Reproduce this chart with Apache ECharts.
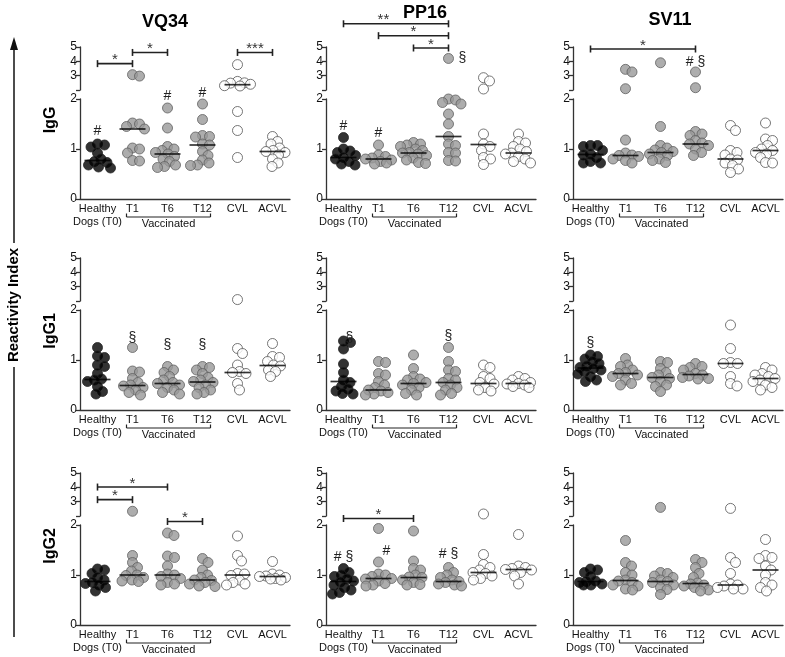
<!DOCTYPE html>
<html><head><meta charset="utf-8">
<script src="https://cdn.jsdelivr.net/npm/echarts@6/dist/echarts.min.js"></script>
<style>html,body{margin:0;padding:0;background:#fff}#c{width:785px;height:657px}</style>
</head><body><div id="c"></div>
<script>
// ---------------- DATA ----------------
const categories = ['Healthy\nDogs (T0)', 'T1', 'T6', 'T12', 'CVL', 'ACVL'];
const antigens = ['VQ34', 'PP16', 'SV11'];
const isotypes = ['IgG', 'IgG1', 'IgG2'];
const groupLabel = 'Vaccinated';
const axisLabel = 'Reactivity Index';

const VQ34_IgG = [
  [1.1, 1.08, 1.04, 0.92, 0.8, 0.75, 0.73, 0.68, 0.64, 0.62],
  [3.07, 2.97, 1.52, 1.5, 1.45, 1.4, 1.02, 1.0, 0.92, 0.77, 0.76],
  [1.82, 1.42, 1.05, 1.0, 0.97, 0.93, 0.9, 0.85, 0.8, 0.75, 0.68, 0.65, 0.63],
  [1.9, 1.59, 1.27, 1.25, 1.24, 1.1, 1.08, 0.95, 0.87, 0.78, 0.72, 0.68, 0.67],
  [3.77, 2.6, 2.5, 2.48, 2.4, 2.3, 2.28, 1.75, 1.37, 0.83],
  [1.25, 1.15, 1.1, 1.02, 0.97, 0.95, 0.93, 0.88, 0.8, 0.72, 0.65]
];
const VQ34_IgG_median = [0.77, 1.40, 0.90, 1.08, 2.37, 0.95];

const PP16_IgG = [
  [1.23, 1.0, 0.96, 0.93, 0.87, 0.83, 0.8, 0.75, 0.7, 0.68],
  [1.08, 0.88, 0.85, 0.82, 0.8, 0.78, 0.75, 0.72, 0.7],
  [1.13, 1.1, 1.08, 1.05, 1.0, 0.97, 0.93, 0.92, 0.9, 0.87, 0.82, 0.78, 0.73, 0.71],
  [4.2, 2.0, 1.98, 1.93, 1.9, 1.7, 1.5, 1.25, 1.1, 1.07, 0.93, 0.92, 0.77, 0.76],
  [2.86, 2.63, 2.07, 1.3, 1.1, 1.05, 0.97, 0.83, 0.8, 0.69],
  [1.3, 1.15, 1.12, 1.05, 1.0, 0.95, 0.92, 0.9, 0.85, 0.8, 0.75, 0.72]
];
const PP16_IgG_median = [0.83, 0.80, 0.92, 1.25, 1.09, 0.92];

const SV11_IgG = [
  [1.07, 1.07, 1.05, 0.97, 0.9, 0.88, 0.83, 0.75, 0.72, 0.72],
  [3.44, 3.26, 2.09, 1.18, 0.92, 0.88, 0.87, 0.85, 0.8, 0.77, 0.72],
  [3.9, 1.45, 1.07, 1.02, 0.98, 0.95, 0.93, 0.9, 0.87, 0.8, 0.77, 0.73],
  [3.26, 2.16, 1.35, 1.3, 1.27, 1.17, 1.12, 1.1, 1.07, 1.0, 0.93, 0.87],
  [1.47, 1.37, 0.97, 0.93, 0.88, 0.8, 0.78, 0.72, 0.67, 0.6, 0.53],
  [1.52, 1.2, 1.17, 1.07, 1.0, 0.97, 0.93, 0.9, 0.83, 0.73, 0.72]
];
const SV11_IgG_median = [0.89, 0.87, 0.93, 1.10, 0.80, 0.97];

const VQ34_IgG1 = [
  [1.25, 1.08, 1.05, 0.9, 0.87, 0.73, 0.62, 0.6, 0.57, 0.47, 0.37, 0.32],
  [1.25, 0.78, 0.76, 0.63, 0.55, 0.5, 0.48, 0.45, 0.4, 0.35, 0.3],
  [0.87, 0.8, 0.75, 0.67, 0.6, 0.55, 0.53, 0.5, 0.45, 0.4, 0.35, 0.32],
  [0.87, 0.85, 0.8, 0.73, 0.65, 0.6, 0.57, 0.55, 0.5, 0.45, 0.4, 0.35, 0.32],
  [2.1, 1.23, 1.13, 0.9, 0.77, 0.75, 0.73, 0.53, 0.4],
  [1.33, 1.07, 1.05, 0.97, 0.9, 0.88, 0.8, 0.77, 0.67]
];
const VQ34_IgG1_median = [0.61, 0.49, 0.53, 0.56, 0.75, 0.89];

const PP16_IgG1 = [
  [1.38, 1.35, 1.22, 0.92, 0.75, 0.6, 0.55, 0.47, 0.42, 0.38, 0.33, 0.32],
  [0.97, 0.95, 0.73, 0.7, 0.57, 0.5, 0.45, 0.4, 0.38, 0.35, 0.32, 0.3],
  [1.1, 0.83, 0.67, 0.62, 0.6, 0.55, 0.53, 0.5, 0.45, 0.4, 0.33, 0.3],
  [1.25, 0.97, 0.8, 0.77, 0.63, 0.6, 0.55, 0.5, 0.45, 0.4, 0.33, 0.3],
  [0.9, 0.85, 0.67, 0.63, 0.55, 0.52, 0.45, 0.4, 0.38],
  [0.67, 0.63, 0.6, 0.55, 0.53, 0.52, 0.5, 0.47, 0.45]
];
const PP16_IgG1_median = [0.57, 0.40, 0.53, 0.55, 0.53, 0.53];

const SV11_IgG1 = [
  [1.1, 1.07, 1.02, 0.97, 0.93, 0.88, 0.85, 0.83, 0.8, 0.77, 0.72, 0.67, 0.6, 0.57],
  [1.03, 0.9, 0.87, 0.8, 0.75, 0.73, 0.7, 0.67, 0.6, 0.53, 0.5],
  [0.97, 0.95, 0.83, 0.75, 0.7, 0.65, 0.63, 0.57, 0.5, 0.47, 0.37],
  [0.93, 0.87, 0.85, 0.8, 0.73, 0.7, 0.68, 0.65, 0.63, 0.62],
  [1.7, 1.23, 0.95, 0.93, 0.93, 0.67, 0.53, 0.48],
  [0.85, 0.8, 0.73, 0.7, 0.67, 0.63, 0.6, 0.57, 0.5, 0.45, 0.4]
];
const SV11_IgG1_median = [0.84, 0.73, 0.65, 0.71, 0.93, 0.63];

const VQ34_IgG2 = [
  [1.12, 1.1, 1.03, 0.95, 0.9, 0.85, 0.83, 0.8, 0.75, 0.68],
  [2.33, 1.39, 1.25, 1.15, 1.08, 1.0, 0.99, 0.95, 0.9, 0.88, 0.87],
  [1.84, 1.79, 1.38, 1.35, 1.18, 1.02, 1.0, 0.97, 0.93, 0.85, 0.82, 0.8],
  [1.33, 1.25, 1.1, 1.0, 0.95, 0.9, 0.89, 0.85, 0.82, 0.78, 0.77],
  [1.78, 1.39, 1.28, 1.03, 1.02, 0.99, 0.9, 0.85, 0.82, 0.8],
  [1.27, 1.02, 1.0, 0.98, 0.97, 0.95, 0.93, 0.92, 0.9]
];
const VQ34_IgG2_median = [0.87, 1.00, 1.00, 0.90, 1.00, 0.97];

const PP16_IgG2 = [
  [1.13, 1.05, 1.0, 0.97, 0.92, 0.88, 0.86, 0.8, 0.75, 0.7, 0.65, 0.62],
  [1.93, 1.26, 1.02, 1.0, 0.97, 0.93, 0.92, 0.88, 0.83, 0.8, 0.78],
  [1.88, 1.28, 1.13, 1.1, 1.0, 0.96, 0.95, 0.9, 0.85, 0.81, 0.8],
  [1.15, 1.05, 1.0, 0.95, 0.9, 0.87, 0.85, 0.82, 0.8, 0.78],
  [2.14, 1.41, 1.21, 1.15, 1.1, 1.05, 1.03, 0.98, 0.93, 0.9],
  [1.81, 1.18, 1.15, 1.13, 1.11, 1.1, 1.05, 0.98, 0.82]
];
const PP16_IgG2_median = [0.87, 0.93, 0.95, 0.87, 1.05, 1.11];

const SV11_IgG2 = [
  [1.12, 1.1, 1.05, 0.98, 0.88, 0.87, 0.85, 0.82, 0.8, 0.8],
  [1.69, 1.25, 1.18, 1.05, 1.0, 0.9, 0.88, 0.85, 0.8, 0.78, 0.72, 0.7],
  [2.6, 1.05, 1.03, 0.98, 0.95, 0.9, 0.87, 0.85, 0.8, 0.75, 0.71, 0.61],
  [1.31, 1.25, 1.15, 1.03, 0.95, 0.84, 0.82, 0.8, 0.78, 0.75, 0.7, 0.68],
  [2.53, 1.35, 1.25, 1.03, 0.82, 0.8, 0.78, 0.75, 0.72, 0.72],
  [1.71, 1.39, 1.35, 1.33, 1.18, 1.1, 1.0, 0.85, 0.8, 0.75, 0.68]
];
const SV11_IgG2_median = [0.87, 0.89, 0.87, 0.83, 0.80, 1.10];

// significance brackets: [row, col, fromCat, toCat, segment, yValue, stars]
const sigBars = [
  [0, 0, 0, 1, 'u', 3.84, '*'], [0, 0, 1, 2, 'u', 4.62, '*'], [0, 0, 4, 5, 'u', 4.62, '***'],
  [0, 1, 0, 3, 'u', 6.62, '**'], [0, 1, 1, 3, 'u', 5.79, '*'], [0, 1, 2, 3, 'u', 4.93, '*'],
  [0, 2, 0, 3, 'u', 4.86, '*'],
  [2, 0, 0, 2, 'u', 4.02, '*'], [2, 0, 0, 1, 'u', 3.14, '*'], [2, 0, 2, 3, 'l', 2.07, '*'],
  [2, 1, 0, 2, 'l', 2.13, '*']
];
// symbols: [row, col, cat, segment, yValue, text]
const symbolsNotes = [
  [0, 0, 0, 'l', 1.35, '#'], [0, 0, 2, 'l', 2.05, '#'], [0, 0, 3, 'l', 2.12, '#'],
  [0, 1, 0, 'l', 1.45, '#'], [0, 1, 1, 'l', 1.32, '#'], [0, 1, 3, 'u', 4.2, '§'],
  [0, 2, 3, 'u', 3.93, '# §'],
  [1, 0, 1, 'l', 1.43, '§'], [1, 0, 2, 'l', 1.3, '§'], [1, 0, 3, 'l', 1.3, '§'],
  [1, 1, 0, 'l', 1.43, '§'], [1, 1, 3, 'l', 1.47, '§'],
  [1, 2, 0, 'l', 1.33, '§'],
  [2, 1, 0, 'l', 1.35, '# §'], [2, 1, 1, 'l', 1.48, '#'], [2, 1, 3, 'l', 1.41, '# §']
];

const panels = [
  [[VQ34_IgG, VQ34_IgG_median], [PP16_IgG, PP16_IgG_median], [SV11_IgG, SV11_IgG_median]],
  [[VQ34_IgG1, VQ34_IgG1_median], [PP16_IgG1, PP16_IgG1_median], [SV11_IgG1, SV11_IgG1_median]],
  [[VQ34_IgG2, VQ34_IgG2_median], [PP16_IgG2, PP16_IgG2_median], [SV11_IgG2, SV11_IgG2_median]]
];

// ---------------- LAYOUT / STYLE ----------------
const FONT = 'Liberation Sans, Arial, sans-serif';
const AX = '#333';
const colLeft = [80, 326, 573];
const rowTop = [47, 258, 473];
const plotW = 210, upH = 43, gapH = 9, lowH = 100;
const BREAK = 2;
const fills = ['#000000', '#999999', '#999999', '#999999', '#ffffff', '#ffffff'];
const borders = ['#222222', '#606060', '#606060', '#606060', '#555555', '#555555'];
const noteShift = {'0,1,3': 14, '1,1,0': 6, '2,1,1': 8};
const sigLabelFrac = {'0,1,0,3': 0.38};
const SYM = 10, MINDIST = 6.8, MAXOFF = 13;

function pxY(r, v) {
  return v > BREAK ? rowTop[r] + (5 - v) * upH / 3
                   : rowTop[r] + upH + gapH + (2 - v) * lowH / 2;
}
function swarm(r, vals) {
  const ys = vals.map(v => pxY(r, v));
  const order = vals.map((v, i) => i).sort((a, b) => ys[a] - ys[b]);
  const placed = [], off = new Array(vals.length).fill(0);
  for (const i of order) {
    let best = 0, bestD = -1, found = false;
    for (let k = 0; k < 200; k++) {
      const cand = k === 0 ? 0 : (k % 2 ? 1 : -1) * Math.ceil(k / 2) * 0.5;
      if (Math.abs(cand) > MAXOFF) break;
      let md = Infinity;
      for (const p of placed) {
        const dx = cand - p[0], dy = ys[i] - p[1];
        md = Math.min(md, Math.sqrt(dx * dx + dy * dy));
      }
      if (md >= MINDIST) { best = cand; found = true; break; }
      if (md > bestD) { bestD = md; best = cand; }
    }
    off[i] = best; placed.push([best, ys[i]]);
  }
  return off;
}

const grids = [], xAxes = [], yAxes = [], series = [];
const lineStyle = {color: AX, width: 1.3};
for (let r = 0; r < 3; r++) {
  for (let c = 0; c < 3; c++) {
    const p = r * 3 + c, gu = 2 * p, gl = 2 * p + 1;
    grids.push({left: colLeft[c], top: rowTop[r], width: plotW, height: upH});
    grids.push({left: colLeft[c], top: rowTop[r] + upH + gapH, width: plotW, height: lowH});
    xAxes.push({gridIndex: gu, type: 'category', data: categories, show: false});
    xAxes.push({gridIndex: gl, type: 'category', data: categories,
      axisLine: {show: true, lineStyle}, axisTick: {show: false},
      axisLabel: {interval: 0, fontSize: 11, color: '#111', fontFamily: FONT, margin: 3, lineHeight: 13, hideOverlap: false}});
    const yCommon = {type: 'value', interval: 1, splitLine: {show: false},
      axisLine: {show: true, lineStyle}, axisTick: {show: true, length: 4, lineStyle},
      axisLabel: {fontSize: 12, color: '#111', fontFamily: FONT, margin: 3}};
    yAxes.push(Object.assign({gridIndex: gu, min: 2, max: 5}, yCommon,
      {axisLabel: Object.assign({}, yCommon.axisLabel, {formatter: v => v === 2 ? '' : String(v)})}));
    yAxes.push(Object.assign({gridIndex: gl, min: 0, max: 2}, yCommon));

    const [vals, meds] = panels[r][c];
    const up = [], lo = [];
    vals.forEach((arr, ci) => {
      const off = swarm(r, arr);
      arr.forEach((v, i) => {
        const item = {value: [ci, v], symbolOffset: [off[i], 0],
          itemStyle: {color: fills[ci], borderColor: borders[ci], borderWidth: 1}};
        (v > BREAK ? up : lo).push(item);
      });
    });
    const scat = {type: 'scatter', symbol: 'circle', symbolSize: SYM, silent: true, animation: false, z: 3};
    series.push(Object.assign({}, scat, {xAxisIndex: gu, yAxisIndex: gu, data: up}));
    series.push(Object.assign({}, scat, {xAxisIndex: gl, yAxisIndex: gl, data: lo}));
    const mu = [], ml = [];
    meds.forEach((m, ci) => (m > BREAK ? mu : ml).push([ci, m]));
    const medS = {type: 'scatter', symbol: 'rect', symbolSize: [26, 1.7], silent: true, animation: false, z: 5,
      itemStyle: {color: '#000'}};
    series.push(Object.assign({}, medS, {xAxisIndex: gu, yAxisIndex: gu, data: mu}));
    series.push(Object.assign({}, medS, {xAxisIndex: gl, yAxisIndex: gl, data: ml}));

    // significance bars
    ['u', 'l'].forEach(seg => {
      const bars = sigBars.filter(b => b[0] === r && b[1] === c && b[4] === seg);
      if (!bars.length) return;
      const gi = seg === 'u' ? gu : gl;
      series.push({type: 'custom', xAxisIndex: gi, yAxisIndex: gi, clip: false, silent: true, animation: false, z: 6,
        data: bars.map(b => [b[2], b[3], b[5]]),
        renderItem: (params, api) => {
          const bar = bars[params.dataIndex];
          const a = api.coord([api.value(0), api.value(2)]);
          const b = api.coord([api.value(1), api.value(2)]);
          const f = sigLabelFrac[bar.slice(0, 4).join(',')] || 0.5;
          const st = {stroke: '#222', lineWidth: 1.6};
          return {type: 'group', children: [
            {type: 'line', shape: {x1: a[0], y1: a[1], x2: b[0], y2: b[1]}, style: st},
            {type: 'line', shape: {x1: a[0], y1: a[1] - 3.5, x2: a[0], y2: a[1] + 3.5}, style: st},
            {type: 'line', shape: {x1: b[0], y1: b[1] - 3.5, x2: b[0], y2: b[1] + 3.5}, style: st},
            {type: 'text', style: {text: bar[6], x: a[0] + (b[0] - a[0]) * f, y: a[1] - 11,
              textAlign: 'center', textVerticalAlign: 'top', font: '15px ' + FONT, fill: '#333'}}
          ]};
        }});
    });
    // notes (# / §)
    ['u', 'l'].forEach(seg => {
      const notes = symbolsNotes.filter(n => n[0] === r && n[1] === c && n[3] === seg);
      if (!notes.length) return;
      const gi = seg === 'u' ? gu : gl;
      series.push({type: 'custom', xAxisIndex: gi, yAxisIndex: gi, clip: false, silent: true, animation: false, z: 6,
        data: notes.map(n => [n[2], n[4]]),
        renderItem: (params, api) => {
          const n = notes[params.dataIndex];
          const p0 = api.coord([api.value(0), api.value(1)]);
          const sh = noteShift[n[0] + ',' + n[1] + ',' + n[2]] || 0;
          return {type: 'text', style: {text: n[5], x: p0[0] + sh, y: p0[1], textAlign: 'center',
            textVerticalAlign: 'middle', font: '14px ' + FONT, fill: '#222'}};
        }});
    });
    // vaccinated bracket
    series.push({type: 'custom', xAxisIndex: gl, yAxisIndex: gl, clip: false, silent: true, animation: false,
      data: [[1, 3]],
      renderItem: (params, api) => {
        const a = api.coord([api.value(0), 0]);
        const b = api.coord([api.value(1), 0]);
        const x1 = a[0] - 6, x2 = b[0] + 8, y = a[1] + 18;
        const st = {stroke: '#222', lineWidth: 1.2};
        return {type: 'group', children: [
          {type: 'line', shape: {x1, y1: y, x2, y2: y}, style: st},
          {type: 'line', shape: {x1, y1: y, x2: x1, y2: y - 3.5}, style: st},
          {type: 'line', shape: {x1: x2, y1: y, x2, y2: y - 3.5}, style: st},
          {type: 'text', style: {text: groupLabel, x: (x1 + x2) / 2, y: y + 1.5, textAlign: 'center',
            textVerticalAlign: 'top', font: '11px ' + FONT, fill: '#111'}}
        ]};
      }});
  }
}

const graphics = [];
const titleX = [165, 425, 670], titleY = [22, 13, 20];
antigens.forEach((t, i) => graphics.push({type: 'text', x: titleX[i], y: titleY[i],
  style: {text: t, font: 'bold 18px ' + FONT, fill: '#000', textAlign: 'center', textVerticalAlign: 'middle'}}));
isotypes.forEach((t, i) => graphics.push({type: 'text', x: 51, y: rowTop[i] + 73, rotation: Math.PI / 2,
  style: {text: t, font: 'bold 16px ' + FONT, fill: '#000', textAlign: 'center', textVerticalAlign: 'middle'}}));
graphics.push({type: 'text', x: 14, y: 305, rotation: Math.PI / 2,
  style: {text: axisLabel, font: 'bold 15px ' + FONT, fill: '#000', textAlign: 'center', textVerticalAlign: 'middle'}});
graphics.push({type: 'line', shape: {x1: 14, y1: 637, x2: 14, y2: 367}, style: {stroke: '#111', lineWidth: 1.5}});
graphics.push({type: 'line', shape: {x1: 14, y1: 243, x2: 14, y2: 46}, style: {stroke: '#111', lineWidth: 1.5}});
graphics.push({type: 'polygon', shape: {points: [[14, 37], [10, 50], [18, 50]]}, style: {fill: '#111'}});

const chart = echarts.init(document.getElementById('c'), null, {renderer: 'canvas'});
chart.setOption({
  animation: false,
  backgroundColor: '#fff',
  grid: grids, xAxis: xAxes, yAxis: yAxes, series: series, graphic: graphics
});
</script></body></html>
